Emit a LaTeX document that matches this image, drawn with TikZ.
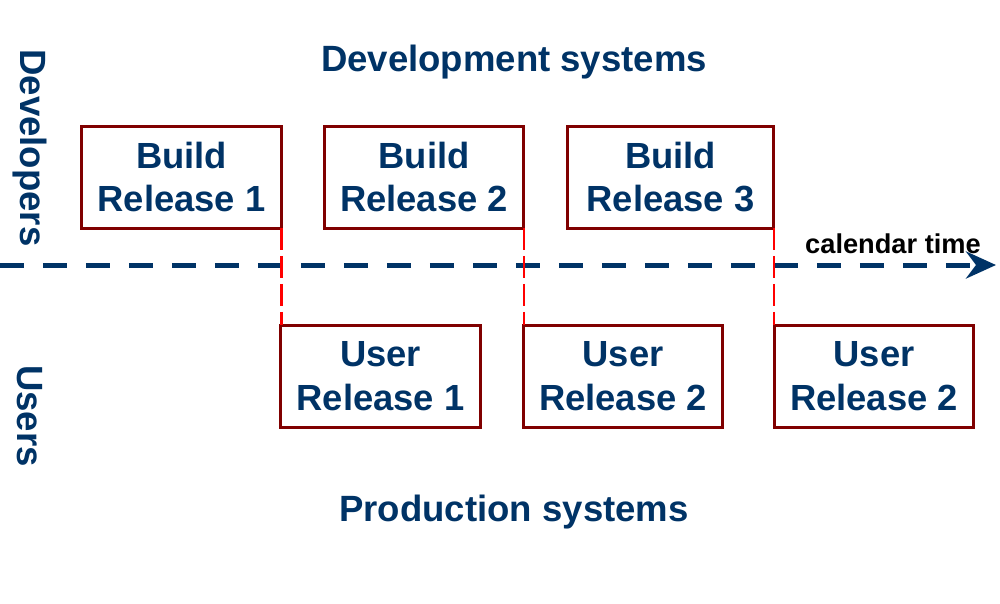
\documentclass[tikz,border=0pt]{standalone}
\usepackage{fontspec}
\setmainfont{Liberation Sans}
\usepackage{tikz}
\usepackage{xcolor}
\usetikzlibrary{arrows.meta, positioning}

\definecolor{navy}{HTML}{003366}
\definecolor{boxred}{HTML}{800000}

\tikzset{
  relbox/.style={draw=boxred, line width=0.6mm, text=navy, font=\bfseries\fontsize{20.7}{25}\selectfont,
    align=center, minimum width=4cm, minimum height=2.04cm, inner sep=0pt, outer sep=0pt},
  bigtext/.style={text=navy, font=\bfseries\fontsize{20.8}{25}\selectfont, inner sep=0pt},
  handover/.style={red, line width=0.5mm, dash pattern=on 0.44cm off 0.12cm},
  timeline/.style={navy, line width=1mm, dash pattern=on 0.48cm off 0.38cm,
    -{Stealth[length=6mm, width=5.4mm, inset=2mm]}}
}

\begin{document}
\begin{tikzpicture}[x=0.02cm, y=-0.02cm]
\useasboundingbox (0,0) rectangle (1000,603);

% titles and side labels
\node[bigtext] (devsys) at (514,62) {Development systems};
\node[bigtext] (prodsys) at (514,512) {Production systems};
\node[bigtext, rotate=-90] (devs) at (30,148) {Developers};
\node[bigtext, rotate=-90] (users) at (30,416) {Users};

% build releases
\node[relbox] (b1) at (181.5,177) {Build\\Release 1};
\node[relbox] (b2) at (424,177) {Build\\Release 2};
\node[relbox, minimum width=4.14cm] (b3) at (670.5,177) {Build\\Release 3};

% user releases
\node[relbox] (u1) at (380.5,376) {User\\Release 1};
\node[relbox] (u2) at (623,376) {User\\Release 2};
\node[relbox] (u3) at (874,376) {User\\Release 2};

% calendar time
\coordinate (tstart) at (0,265);
\coordinate (tend) at (996,265);
\draw[timeline] (tstart) -- (tend);
\node[font=\bfseries\fontsize{15.5}{18}\selectfont, inner sep=0pt] (cal) at (893,244) {calendar time};

% hand-over lines
\draw[handover] (b1.south east) -- (b1.south east |- u1.north);
\draw[handover] (b2.south east) -- (b2.south east |- u2.north);
\draw[handover] (b3.south east) -- (b3.south east |- u3.north);
\end{tikzpicture}
\end{document}
